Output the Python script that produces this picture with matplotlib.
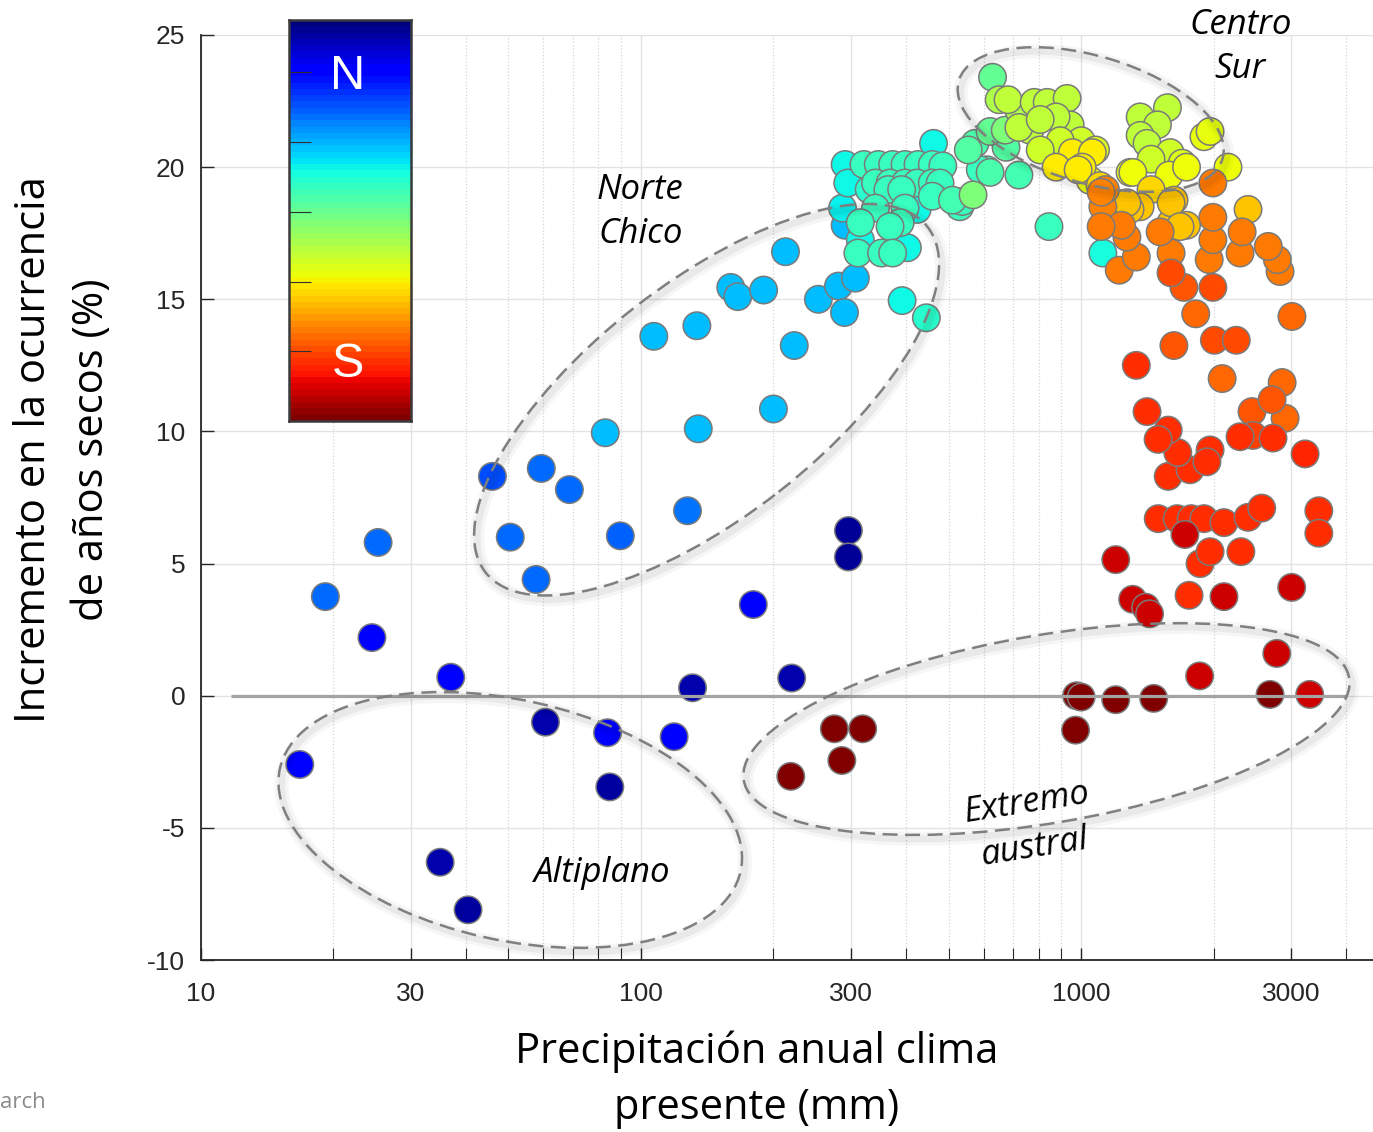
import numpy as np
import matplotlib
matplotlib.use("Agg")
import matplotlib.pyplot as plt
import matplotlib.transforms as mtransforms
from matplotlib.patches import Ellipse

# ---------------- data ----------------
# annual precipitation (mm), increase in dry-year occurrence (%), position N(0) -> S(1)
precip = [16.8, 19.2, 24.5, 25.3, 37.0, 35.0, 40.5, 46.0, 50.5, 59.4, 57.8, 68.8, 60.7,
          83.0, 84.0, 85.0, 89.8, 107, 119, 127.6, 131, 134, 135, 160, 166, 180, 190, 200,
          213, 220, 223, 253, 281, 290, 307, 296, 296, 392, 445,
          # extremo austral
          219, 275, 319, 286, 976, 1000, 1198, 1461, 971, 1858, 2781, 2685, 3304,
          # sur
          1198, 1309, 1401, 1430, 1758, 2110, 3007, 1720, 1862, 1962, 2305, 3465, 3465,
          1496, 1652, 1777, 1900, 2110, 2393, 2570, 1576, 1767, 1657, 1962, 1930, 1576,
          1495, 1411, 2295, 2455, 2727, 3225, 2443, 2713, 2860, 2905, 2090, 1334, 1624,
          2007, 2250, 1820, 3011, 1991, 1711, 1600,
          2829, 2790, 2660, 2295, 2320, 1953, 1991, 1991, 1991, 2393, 1220, 1334, 1600,
          1511, 1270, 1235, 1110, 1120, 1135, 1110, 1361, 1291, 1625, 1600, 1735, 1120,
          # centro sur
          1361, 1570, 1490, 1361, 1411, 1900, 1962, 2155, 955, 1060, 1005, 1291, 1584,
          1695, 1592, 1441, 1735, 1310, 1441, 1270, 1600, 1677, 629, 651, 682, 782, 837,
          929, 765, 722, 944, 877, 1000, 1078, 877, 984, 722, 807, 896, 807, 1048, 1104,
          574, 675, 722, 621, 568, 510, 554, 845, 672, 621, 462,
          # norte chico / centro
          291, 321, 346, 373, 398, 426, 459, 485, 295, 341, 368, 398, 424, 459, 478,
          330, 364, 391, 459, 530, 537, 611, 590, 287, 341, 398, 424, 315, 388, 368,
          291, 315, 403, 311, 352, 373]
incremento = [-2.6, 3.75, 2.2, 5.8, 0.7, -6.3, -8.1, 8.3, 6.0, 8.6, 4.4, 7.8, -1.0,
              9.95, -1.4, -3.45, 6.05, 13.6, -1.55, 7.0, 0.3, 14.0, 10.1, 15.45, 15.1, 3.45,
              15.35, 10.85, 16.8, 0.67, 13.25, 15.0, 15.5, 14.5, 15.8, 6.25, 5.25, 14.95, 14.3,
              -3.05, -1.25, -1.25, -2.45, 0.0, -0.05, -0.15, -0.1, -1.3, 0.75, 1.6, 0.05, 0.05,
              5.15, 3.65, 3.35, 3.1, 3.8, 3.75, 4.1, 6.1, 5.0, 5.45, 5.45, 7.0, 6.15,
              6.7, 6.7, 6.7, 6.7, 6.55, 6.75, 7.1, 8.3, 8.55, 9.2, 9.3, 8.85, 10.05,
              9.7, 10.75, 9.8, 9.85, 9.75, 9.15, 10.75, 11.2, 11.85, 10.5, 12.0, 12.5, 13.25,
              13.45, 13.45, 14.45, 14.35, 15.45, 15.45, 16.0,
              16.05, 16.5, 17.0, 16.75, 17.55, 16.5, 17.25, 18.1, 19.4, 18.4, 16.1, 16.6, 16.75,
              17.55, 17.35, 17.8, 17.75, 18.5, 19.15, 19.05, 18.5, 18.4, 18.75, 17.9, 17.8, 16.75,
              21.9, 22.25, 21.6, 21.2, 20.9, 21.15, 21.35, 20.0, 20.55, 20.55, 20.0, 19.8, 19.7,
              20.15, 20.55, 20.3, 20.0, 19.8, 19.15, 18.65, 18.65, 17.75, 23.4, 22.55, 22.55, 22.45, 22.45,
              22.6, 21.4, 21.5, 21.6, 21.9, 21.0, 20.65, 20.0, 19.9, 22.15, 21.8, 21.0, 20.65, 19.5, 19.3,
              20.9, 20.75, 19.7, 19.8, 18.95, 18.75, 20.65, 17.75, 21.4, 21.35, 20.9,
              20.1, 20.1, 20.1, 20.1, 20.1, 20.1, 20.1, 20.05, 19.4, 19.4, 19.4, 19.4, 19.4, 19.4, 19.4,
              19.15, 19.15, 19.15, 18.9, 18.5, 18.7, 19.9, 19.9, 18.45, 18.45, 18.45, 18.4, 17.9, 17.9, 17.75,
              17.8, 17.25, 16.95, 16.75, 16.75, 16.75]
latitud = [0.12, 0.23, 0.12, 0.23, 0.12, 0.04, 0.03, 0.20, 0.23, 0.23, 0.23, 0.23, 0.04,
           0.31, 0.12, 0.03, 0.22, 0.31, 0.12, 0.24, 0.04, 0.31, 0.31, 0.31, 0.31, 0.12,
           0.31, 0.31, 0.31, 0.04, 0.31, 0.31, 0.31, 0.31, 0.31, 0.02, 0.02, 0.37, 0.40,
           1.0, 1.0, 1.0, 1.0, 1.0, 1.0, 1.0, 1.0, 1.0, 0.93, 0.93, 1.0, 0.93,
           0.93, 0.93, 0.93, 0.93, 0.86, 0.93, 0.93, 0.93, 0.86, 0.86, 0.86, 0.86, 0.86,
           0.86, 0.86, 0.86, 0.86, 0.86, 0.86, 0.86, 0.86, 0.86, 0.86, 0.86, 0.86, 0.86,
           0.86, 0.86, 0.86, 0.84, 0.86, 0.87, 0.82, 0.82, 0.80, 0.80, 0.80, 0.86, 0.82,
           0.83, 0.83, 0.80, 0.80, 0.83, 0.82, 0.83,
           0.78, 0.78, 0.78, 0.78, 0.78, 0.78, 0.78, 0.78, 0.78, 0.70, 0.78, 0.78, 0.78,
           0.78, 0.78, 0.78, 0.78, 0.77, 0.77, 0.77, 0.70, 0.70, 0.70, 0.70, 0.70, 0.38,
           0.58, 0.58, 0.58, 0.58, 0.58, 0.63, 0.63, 0.64, 0.66, 0.66, 0.66, 0.64, 0.64,
           0.62, 0.60, 0.60, 0.64, 0.64, 0.68, 0.70, 0.70, 0.70, 0.47, 0.56, 0.58, 0.58, 0.58,
           0.58, 0.58, 0.58, 0.58, 0.58, 0.60, 0.62, 0.66, 0.66, 0.56, 0.58, 0.60, 0.60, 0.64, 0.68,
           0.44, 0.45, 0.43, 0.44, 0.50, 0.43, 0.45, 0.42, 0.50, 0.47, 0.37,
           0.37, 0.42, 0.42, 0.42, 0.42, 0.42, 0.42, 0.42, 0.37, 0.42, 0.42, 0.42, 0.42, 0.42, 0.42,
           0.40, 0.42, 0.42, 0.42, 0.42, 0.42, 0.42, 0.42, 0.36, 0.42, 0.42, 0.37, 0.42, 0.42, 0.42,
           0.31, 0.37, 0.37, 0.42, 0.42, 0.42]

x_major = [10, 30, 100, 300, 1000, 3000]
x_major_labels = ['10', '30', '100', '300', '1000', '3000']
y_ticks = [-10, -5, 0, 5, 10, 15, 20, 25]

# region outlines: centre (mm, %), width/height (in), angle
regions = [(141, 11.2, 5.61, 2.34, 38.0),
           (50.5, -4.7, 4.72, 2.40, -12.6),
           (834, -1.26, 6.14, 1.88, 9.6),
           (1051, 21.8, 2.75, 1.27, -16.5)]
region_text = [('Norte\nChico', 99.7, 18.3, 0),
               ('Centro\nSur', 2300, 24.55, 0),
               ('Altiplano', 81.7, -6.7, 0),
               ('Extremo\naustral', 767, -4.9, 9)]

# ---------------- figure ----------------
fig = plt.figure(figsize=(13.73, 11.32), dpi=100)
ax = fig.add_axes([0.1461, 0.1519, 0.8539, 0.8172])

ax.set_xscale('log')
ax.set_xlim(10, 4600)
ax.set_ylim(-10, 25)

minor = [m * 10 ** k for k in range(1, 4) for m in range(2, 10) if m * 10 ** k < 4600]
ax.set_xticks(x_major)
ax.set_xticklabels(x_major_labels)
ax.set_xticks(minor, minor=True)
ax.set_xticklabels([], minor=True)
ax.set_yticks(y_ticks)
ax.set_yticklabels([str(t) for t in y_ticks])

ax.grid(True, which='major', color='#e3e3e3', lw=1.0, ls='-')
ax.grid(True, which='minor', axis='x', color='#d5d5d5', lw=0.9, ls=':')
ax.set_axisbelow(True)

for s in ['top', 'right']:
    ax.spines[s].set_visible(False)
for s in ['left', 'bottom']:
    ax.spines[s].set_color('#262626')
    ax.spines[s].set_linewidth(1.3)

ax.tick_params(axis='both', which='major', direction='in', length=9, width=1.0,
               colors='#262626', labelsize=19)
ax.tick_params(axis='x', which='minor', direction='in', length=9, width=0.8, colors='#262626')
ax.tick_params(axis='x', which='major', pad=16)
ax.tick_params(axis='y', which='major', pad=11)
for lab in ax.get_xticklabels() + ax.get_yticklabels():
    lab.set_fontfamily('Liberation Sans')

# points, southern ones drawn on top
order = np.argsort(latitud, kind='stable')
px = np.array(precip)[order]
py = np.array(incremento)[order]
pc = np.array(latitud)[order]
ax.scatter(px, py, c=pc, cmap='jet', vmin=0, vmax=1, s=390,
           edgecolors='#7a7a7a', linewidths=1.1, zorder=3)

ax.plot([11.7, 4000], [0, 0], color='#a3a3a3', lw=2.3, zorder=4, solid_capstyle='butt')

# dashed region outlines with a soft shadow
for xc, yc, w, h, ang in regions:
    tr = fig.dpi_scale_trans + mtransforms.ScaledTranslation(xc, yc, ax.transData)
    for lw, a in [(10, 0.035), (5, 0.05)]:
        ax.add_patch(Ellipse((0.03, -0.04), w, h, angle=ang, transform=tr, fill=False,
                             lw=lw, ec='black', alpha=a, zorder=4))
    ax.add_patch(Ellipse((0, 0), w, h, angle=ang, transform=tr, fill=False,
                         lw=1.8, ec='#7f7f7f', ls=(0, (6, 3)), zorder=5))

for txt, xt, yt, rot in region_text:
    ax.text(xt, yt, txt, ha='center', va='center', fontsize=25, style='italic',
            family='Open Sans', rotation=rot, linespacing=1.4, zorder=6)

# axis labels
fig.text(63 / 1373, 1 - 450 / 1132, 'Incremento en la ocurrencia\nde años secos (%)',
         rotation=90, ha='center', va='center', fontsize=30, family='Open Sans',
         linespacing=1.47, multialignment='center')
fig.text(757 / 1373, 1 - 1080 / 1132, 'Precipitación anual clima\npresente (mm)',
         ha='center', va='center', fontsize=30, family='Open Sans',
         linespacing=1.45, multialignment='center')
fig.text(0.0, 1 - 1103 / 1132, 'arch', ha='left', va='center', fontsize=16,
         color='#8a8a8a', family='Open Sans')

# north-south colour key
cax = fig.add_axes([289 / 1373, 1 - 421 / 1132, 122 / 1373, 401 / 1132])
cax.imshow(np.linspace(0, 1, 64)[:, None], cmap='jet', aspect='auto',
           extent=(0, 1, 0, 1), origin='upper')
cax.set_xticks([])
cax.set_yticks([0.87, 0.696, 0.521, 0.347, 0.175])
cax.set_yticklabels([])
cax.tick_params(axis='y', direction='in', length=16, width=0.8, colors='#303030')
for s in cax.spines.values():
    s.set_color('#3a3a3a')
    s.set_linewidth(1.8)
cax.text(0.48, 0.858, 'N', ha='center', va='center', color='white', fontsize=35,
         family='Liberation Sans')
cax.text(0.48, 0.142, 'S', ha='center', va='center', color='white', fontsize=35,
         family='Liberation Sans')

fig.savefig('out.png', dpi=100)
